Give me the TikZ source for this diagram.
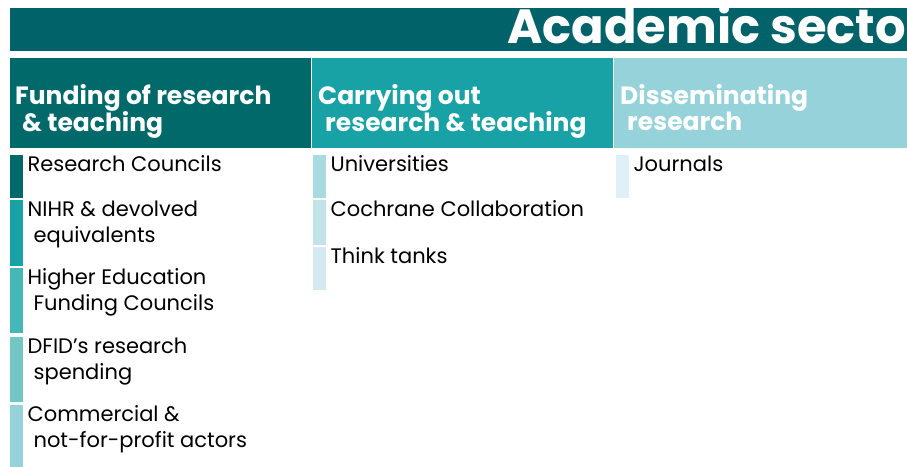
\documentclass[tikz,border=0pt]{standalone}
\usepackage{fontspec}
\setmainfont{Poppins}
\usetikzlibrary{
  positioning,
  calc
}
\usepackage{xcolor}
\definecolor{titleTeal}{RGB}{2,98,106}
\definecolor{darkTeal}{RGB}{2,105,107}
\definecolor{midTeal}{RGB}{25,162,165}
\definecolor{paleTeal}{RGB}{150,210,218}
\definecolor{barThree}{RGB}{69,183,185}
\definecolor{barFour}{RGB}{115,198,196}
\definecolor{uniBlue}{RGB}{168,218,223}
\definecolor{cochBlue}{RGB}{194,228,233}
\definecolor{thinkBlue}{RGB}{211,235,240}
\definecolor{journBlue}{RGB}{223,240,247}
\newcommand{\lineStack}[2]{\vtop{\hbox{#1}\hbox{#2}}}
\newcommand{\sectorEntry}[6]{\node[entryBar,fill=#5,minimum height=#4pt] (#1)%
  at (#2,#3) {};
  \node[entryText] (#1Text) at ($(#1.north east)+(4,16)$) {#6};}
\tikzset{
  titleBand/.style={
    rectangle,
    anchor=north west,
    inner sep=0pt,
    minimum width=897pt,
    minimum height=43pt,
    fill=titleTeal
  }
}
\tikzset{
  titleText/.style={
    anchor=base west,
    inner sep=0pt,
    text=white,
    font=\fontsize{48}{48}\selectfont\bfseries
  }
}
\tikzset{
  colHead/.style={
    rectangle,
    anchor=north west,
    inner sep=0pt,
    minimum height=90pt
  }
}
\tikzset{
  headText/.style={
    anchor=base west,
    inner sep=0pt,
    text=white,
    font=\fontsize{25}{26}\selectfont\bfseries
  }
}
\tikzset{
  entryBar/.style={
    rectangle,
    anchor=north west,
    inner sep=0pt,
    minimum width=13pt
  }
}
\tikzset{
  entryText/.style={
    anchor=base west,
    inner sep=0pt,
    text=black,
    font=\fontsize{21}{26}\selectfont
  }
}
\begin{document}
\begin{tikzpicture}[x=1pt, y=-1pt]
    \useasboundingbox (0,0) rectangle (907,466);
    \clip (0,0) rectangle (907,466);

    % title band
    \node[titleBand] (band) at (10,8) {};
    \node[titleText] (title) at (507,43) {Academic sector};

    % column heads
    \node[colHead,fill=darkTeal,minimum width=301pt] (fundHead) at (10,58) {};
    \node[colHead,fill=midTeal,minimum width=301pt] (carryHead) at (312,58) {};
    \node[colHead,fill=paleTeal,minimum width=293pt] (spreadHead) at (614,58) {};
    \node[headText] (fundText) at (15,104)
      {\lineStack{Funding of research}{\hspace{7pt}\& teaching}};
    \node[headText] (carryText) at (318,104)
      {\lineStack{Carrying out}{\hspace{7pt}research \& teaching}};
    \node[headText] (spreadText) at (620,104)
      {\lineStack{Disseminating}{\hspace{7pt}research}};

    % funding
    \sectorEntry{councils}{10}{155}{43}{darkTeal}{Research Councils}
    \sectorEntry{nihr}{10}{200}{66}{midTeal}
      {\lineStack{NIHR \& devolved}{\hspace{6pt}equivalents}}
    \sectorEntry{hefc}{10}{268}{65}{barThree}
      {\lineStack{Higher Education}{\hspace{6pt}Funding Councils}}
    \sectorEntry{dfid}{10}{337}{65}{barFour}
      {\lineStack{DFID’s research}{\hspace{6pt}spending}}
    \sectorEntry{commercial}{10}{405}{70}{paleTeal}
      {\lineStack{Commercial \&}{\hspace{6pt}not-for-profit actors}}

    % carrying out
    \sectorEntry{unis}{313}{155}{43}{uniBlue}{Universities}
    \sectorEntry{cochrane}{313}{200}{45}{cochBlue}{Cochrane Collaboration}
    \sectorEntry{tanks}{313}{247}{43}{thinkBlue}{Think tanks}

    % disseminating
    \sectorEntry{journals}{616}{155}{43}{journBlue}{Journals}
\end{tikzpicture}
\end{document}
